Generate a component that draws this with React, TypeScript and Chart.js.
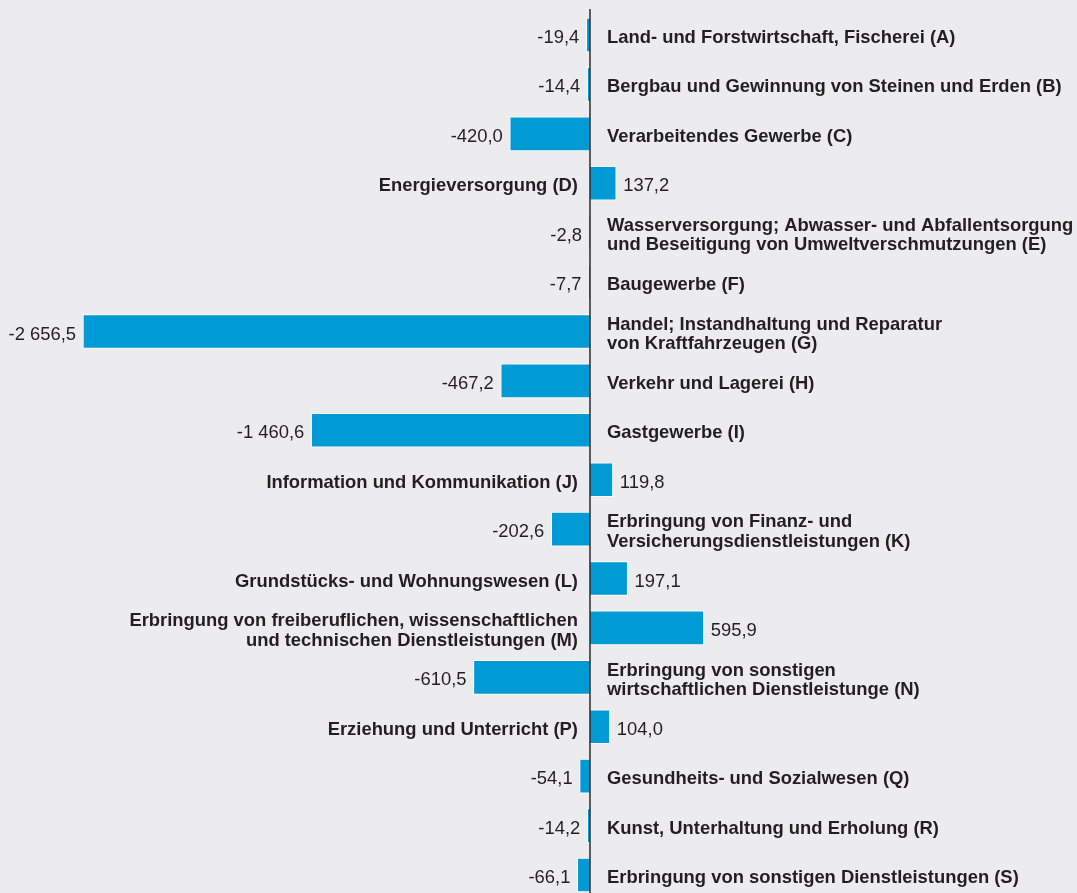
import React, { useEffect, useRef } from "react";
import { Chart, registerables } from "chart.js";

Chart.register(...registerables);

const categories: (string | string[])[] = [
  "Land- und Forstwirtschaft, Fischerei (A)",
  "Bergbau und Gewinnung von Steinen und Erden (B)",
  "Verarbeitendes Gewerbe (C)",
  "Energieversorgung (D)",
  ["Wasserversorgung; Abwasser- und Abfallentsorgung", "und Beseitigung von Umweltverschmutzungen (E)"],
  "Baugewerbe (F)",
  ["Handel; Instandhaltung und Reparatur", "von Kraftfahrzeugen (G)"],
  "Verkehr und Lagerei (H)",
  "Gastgewerbe (I)",
  "Information und Kommunikation (J)",
  ["Erbringung von Finanz- und", "Versicherungsdienstleistungen (K)"],
  "Grundstücks- und Wohnungswesen (L)",
  ["Erbringung von freiberuflichen, wissenschaftlichen", "und technischen Dienstleistungen (M)"],
  ["Erbringung von sonstigen", "wirtschaftlichen Dienstleistunge (N)"],
  "Erziehung und Unterricht (P)",
  "Gesundheits- und Sozialwesen (Q)",
  "Kunst, Unterhaltung und Erholung (R)",
  "Erbringung von sonstigen Dienstleistungen (S)",
];

const values: number[] = [
  -19.4, -14.4, -420.0, 137.2, -2.8, -7.7, -2656.5, -467.2, -1460.6, 119.8,
  -202.6, 197.1, 595.9, -610.5, 104.0, -54.1, -14.2, -66.1,
];

const BG = "#ececee";
const BAR = "#009ad5";
const TEXT = "#231f20";
const FONT = '"Liberation Sans", Arial, Helvetica, sans-serif';

function fmt(v: number): string {
  const neg = v < 0;
  const [int, dec] = Math.abs(v).toFixed(1).split(".");
  const intS = int.replace(/\B(?=(\d{3})+(?!\d))/g, " ");
  return (neg ? "-" : "") + intS + "," + dec;
}

const labelPlugin = {
  id: "labelPlugin",
  beforeDraw(chart: any) {
    const ctx = chart.ctx;
    ctx.save();
    ctx.fillStyle = BG;
    ctx.fillRect(0, 0, chart.width, chart.height);
    ctx.restore();
  },
  afterDatasetsDraw(chart: any) {
    const ctx = chart.ctx;
    const xs = chart.scales.x;
    const zero = xs.getPixelForValue(0);
    ctx.save();
    ctx.strokeStyle = "#2a2a2a";
    ctx.lineWidth = 1.5;
    ctx.beginPath();
    ctx.moveTo(zero, 9);
    ctx.lineTo(zero, chart.height);
    ctx.stroke();

    const meta = chart.getDatasetMeta(0);
    ctx.fillStyle = TEXT;
    ctx.textBaseline = "middle";
    const lh = 19.5;
    meta.data.forEach((bar: any, i: number) => {
      const v = values[i];
      const y = bar.y + 3;
      ctx.font = `18.4px ${FONT}`;
      if (v < 0) {
        ctx.textAlign = "right";
        ctx.fillText(fmt(v), Math.min(bar.x, zero - 1) - 7, y);
      } else {
        ctx.textAlign = "left";
        ctx.fillText(fmt(v), bar.x + 7, y);
      }
      ctx.font = `bold 18.4px ${FONT}`;
      const lines = Array.isArray(categories[i]) ? (categories[i] as string[]) : [categories[i] as string];
      const x = v < 0 ? zero + 17 : zero - 12;
      ctx.textAlign = v < 0 ? "left" : "right";
      lines.forEach((ln, k) => {
        const yy = y + (k - (lines.length - 1) / 2) * lh;
        ctx.fillText(ln, x, yy);
      });
    });
    ctx.restore();
  },
};

export default function App() {
  const ref = useRef<HTMLCanvasElement | null>(null);
  useEffect(() => {
    document.body.style.margin = "0";
    document.body.style.background = BG;
    if (!ref.current) return;
    const chart = new Chart(ref.current, {
      type: "bar",
      data: {
        labels: categories.map((c) => (Array.isArray(c) ? c.join(" ") : c)),
        datasets: [
          {
            data: values,
            backgroundColor: BAR,
            borderColor: "#ffffff",
            borderWidth: 1,
            borderSkipped: "start",
            barThickness: 34,
            clip: false as any,
          },
        ],
      },
      options: {
        indexAxis: "y",
        responsive: false,
        animation: false,
        layout: { padding: { top: 35, bottom: 18, left: 0, right: 0 } },
        plugins: { legend: { display: false }, tooltip: { enabled: false } },
        scales: {
          x: { type: "linear", min: -3091.4, max: 2551.8, display: false, grid: { display: false } },
          y: { type: "category", offset: false, display: false, grid: { display: false } },
        },
      },
      plugins: [labelPlugin],
    });
    return () => chart.destroy();
  }, []);
  return (
    <div style={{ width: 1077, height: 893, overflow: "hidden" }}>
      <canvas ref={ref} width={1077} height={893} style={{ display: "block" }} />
    </div>
  );
}
